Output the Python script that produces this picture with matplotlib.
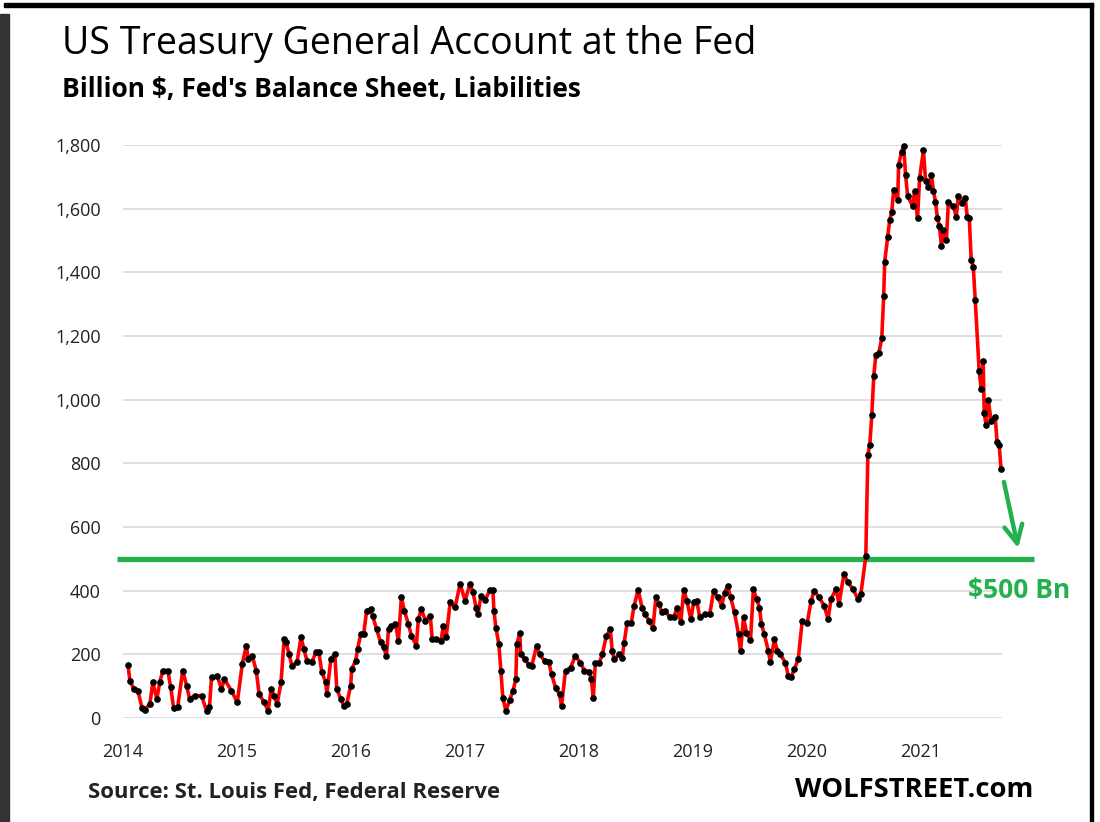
import matplotlib
matplotlib.use("Agg")
import matplotlib.pyplot as plt
from matplotlib.patches import Rectangle

plt.rcParams['font.family'] = ['Open Sans', 'DejaVu Sans']

# Treasury General Account, billion $, x as decimal year
years = [
    2014.044, 2014.061, 2014.096, 2014.131, 2014.166, 2014.192, 2014.236, 2014.262, 2014.297, 2014.323,
    2014.349, 2014.393, 2014.419, 2014.445, 2014.480, 2014.524, 2014.558, 2014.585, 2014.628, 2014.689,
    2014.733, 2014.759, 2014.777, 2014.829, 2014.864, 2014.890, 2014.951, 2015.003, 2015.047, 2015.082,
    2015.099, 2015.134, 2015.169, 2015.195, 2015.239, 2015.274, 2015.300, 2015.326, 2015.353, 2015.387,
    2015.414, 2015.431, 2015.457, 2015.483, 2015.527, 2015.562, 2015.588, 2015.614, 2015.658, 2015.693,
    2015.719, 2015.745, 2015.780, 2015.789, 2015.824, 2015.859, 2015.876, 2015.911, 2015.937, 2015.963,
    2015.998, 2016.007, 2016.042, 2016.059, 2016.086, 2016.112, 2016.138, 2016.173, 2016.190, 2016.225,
    2016.260, 2016.286, 2016.312, 2016.330, 2016.356, 2016.391, 2016.417, 2016.443, 2016.469, 2016.504,
    2016.531, 2016.574, 2016.592, 2016.618, 2016.653, 2016.696, 2016.714, 2016.749, 2016.792, 2016.810,
    2016.836, 2016.871, 2016.914, 2016.958, 2017.002, 2017.045, 2017.072, 2017.098, 2017.115, 2017.141,
    2017.176, 2017.220, 2017.246, 2017.255, 2017.272, 2017.298, 2017.316, 2017.333, 2017.360, 2017.394,
    2017.421, 2017.447, 2017.456, 2017.482, 2017.490, 2017.525, 2017.560, 2017.586, 2017.630, 2017.656,
    2017.700, 2017.735, 2017.761, 2017.796, 2017.831, 2017.848, 2017.883, 2017.927, 2017.970, 2018.014,
    2018.049, 2018.092, 2018.110, 2018.127, 2018.145, 2018.180, 2018.206, 2018.241, 2018.276, 2018.293,
    2018.311, 2018.354, 2018.380, 2018.398, 2018.424, 2018.459, 2018.485, 2018.520, 2018.555, 2018.581,
    2018.616, 2018.651, 2018.677, 2018.703, 2018.729, 2018.756, 2018.799, 2018.834, 2018.860, 2018.895,
    2018.921, 2018.948, 2018.983, 2019.009, 2019.035, 2019.061, 2019.105, 2019.148, 2019.183, 2019.218,
    2019.253, 2019.279, 2019.305, 2019.332, 2019.366, 2019.401, 2019.419, 2019.445, 2019.471, 2019.506,
    2019.532, 2019.559, 2019.585, 2019.602, 2019.628, 2019.663, 2019.681, 2019.716, 2019.742, 2019.768,
    2019.812, 2019.838, 2019.864, 2019.890, 2019.925, 2019.960, 2020.003, 2020.038, 2020.065, 2020.108,
    2020.152, 2020.187, 2020.213, 2020.257, 2020.283, 2020.326, 2020.361, 2020.405, 2020.449, 2020.475,
    2020.518, 2020.536, 2020.553, 2020.571, 2020.588, 2020.606, 2020.632, 2020.658, 2020.675, 2020.684,
    2020.710, 2020.728, 2020.745, 2020.763, 2020.798, 2020.806, 2020.832, 2020.850, 2020.867, 2020.885,
    2020.928, 2020.946, 2020.972, 2020.990, 2021.024, 2021.042, 2021.068, 2021.094, 2021.112, 2021.129,
    2021.147, 2021.164, 2021.182, 2021.199, 2021.225, 2021.243, 2021.286, 2021.312, 2021.330, 2021.365,
    2021.391, 2021.408, 2021.426, 2021.443, 2021.461, 2021.478, 2021.513, 2021.531, 2021.548, 2021.557,
    2021.574, 2021.592, 2021.618, 2021.653, 2021.670, 2021.688, 2021.705,
]
tga = [
    166, 117, 91, 86, 33, 26, 44, 112, 60, 112,
    149, 149, 96, 30, 34, 149, 102, 60, 70, 70,
    23, 34, 128, 131, 91, 122, 86, 49, 170, 227,
    185, 196, 149, 75, 49, 23, 91, 70, 44, 112,
    248, 238, 201, 164, 175, 253, 217, 180, 177, 206,
    206, 143, 112, 75, 185, 201, 91, 60, 39, 44,
    102, 154, 180, 217, 264, 264, 337, 342, 321, 280,
    238, 222, 196, 280, 290, 295, 243, 379, 337, 295,
    259, 227, 311, 342, 306, 321, 248, 248, 243, 290,
    253, 363, 348, 421, 369, 421, 395, 347, 326, 384,
    370, 402, 402, 337, 284, 232, 149, 63, 23, 58,
    84, 121, 232, 268, 200, 184, 168, 163, 226, 200,
    179, 177, 137, 95, 74, 37, 149, 158, 195, 174,
    149, 145, 121, 63, 174, 174, 200, 258, 279, 210,
    184, 200, 189, 237, 300, 297, 353, 402, 347, 326,
    305, 284, 381, 358, 332, 337, 316, 318, 345, 303,
    402, 368, 310, 366, 368, 316, 326, 326, 398, 379,
    353, 392, 416, 379, 332, 263, 210, 316, 268, 244,
    405, 374, 347, 295, 263, 210, 177, 247, 210, 200,
    174, 132, 128, 153, 184, 305, 297, 368, 400, 379,
    353, 311, 374, 405, 358, 452, 426, 405, 374, 390,
    508, 827, 858, 953, 1075, 1141, 1146, 1193, 1326, 1434,
    1510, 1565, 1588, 1659, 1628, 1737, 1779, 1797, 1706, 1640,
    1609, 1654, 1570, 1696, 1784, 1688, 1669, 1706, 1654, 1622,
    1570, 1544, 1483, 1533, 1502, 1622, 1607, 1575, 1640, 1619,
    1633, 1575, 1570, 1439, 1418, 1314, 1089, 1033, 1120, 958,
    921, 1000, 932, 947, 866, 858, 782,
]

year_ticks = [2014, 2015, 2016, 2017, 2018, 2019, 2020, 2021]
value_ticks = [0, 200, 400, 600, 800, 1000, 1200, 1400, 1600, 1800]
level = 500

green = '#22B14C'

fig = plt.figure(figsize=(11, 8.22), dpi=100)
ax = fig.add_axes([0.1118, 0.1265, 0.7991, 0.6971])

# the series: red line with black dots
ax.plot(years, tga, color='#FF0000', lw=2.6, zorder=3, clip_on=False)
ax.plot(years, tga, 'o', color='black', ms=3.8, zorder=4, clip_on=False)

# $500 Bn level line, running a bit past both ends of the grid
x0, x1 = 2014.044, 2021.713
ax.hlines(level, x0 - 0.1, x1 + 0.28, color=green, lw=3.8, zorder=2, clip_on=False)
ax.text(2021.862, level - 98, '$500 Bn', color=green, fontsize=19,
        fontweight='bold', ha='center', va='center')

# arrow pointing down to the line
ax.annotate('', xy=(2021.86, 525), xytext=(2021.725, 750),
            arrowprops=dict(arrowstyle='->,head_length=1.3,head_width=0.65',
                            color=green, lw=3.2), zorder=5, annotation_clip=False)

ax.set_xlim(x0, x1)
ax.set_ylim(0, 1800)
ax.set_xticks(year_ticks)
ax.set_xticklabels([str(y) for y in year_ticks])
ax.set_yticks(value_ticks)
ax.set_yticklabels([f'{v:,}' for v in value_ticks])
ax.tick_params(length=0, labelsize=13, colors='#222222')
ax.tick_params(axis='x', pad=18)
ax.tick_params(axis='y', pad=16)
ax.grid(axis='y', color='#d9d9d9', lw=1.2)
ax.set_axisbelow(True)
for s in ax.spines.values():
    s.set_visible(False)

# titles and footer
fig.text(0.056, 0.947, 'US Treasury General Account at the Fed', fontsize=27,
         ha='left', va='center', color='black')
fig.text(0.056, 0.891, "Billion $, Fed's Balance Sheet, Liabilities", fontsize=19,
         fontweight='bold', ha='left', va='center', color='black')
fig.text(0.080, 0.036, 'Source: St. Louis Fed, Federal Reserve', fontsize=15.9,
         fontweight='bold', ha='left', va='center', color='#222222')
fig.text(0.939, 0.039, 'WOLFSTREET.com', fontsize=19.7, fontweight='bold',
         ha='right', va='center', color='black')

# screenshot frame
fig.patches.append(Rectangle((0, 0), 0.008, 0.983, transform=fig.transFigure,
                             color='#333333', zorder=10))
fig.patches.append(Rectangle((0.004, 0.992), 0.99, 0.004, transform=fig.transFigure,
                             color='black', zorder=10))
fig.patches.append(Rectangle((0.991, 0), 0.003, 0.996, transform=fig.transFigure,
                             color='black', zorder=10))

fig.savefig('out.png', dpi=100)
